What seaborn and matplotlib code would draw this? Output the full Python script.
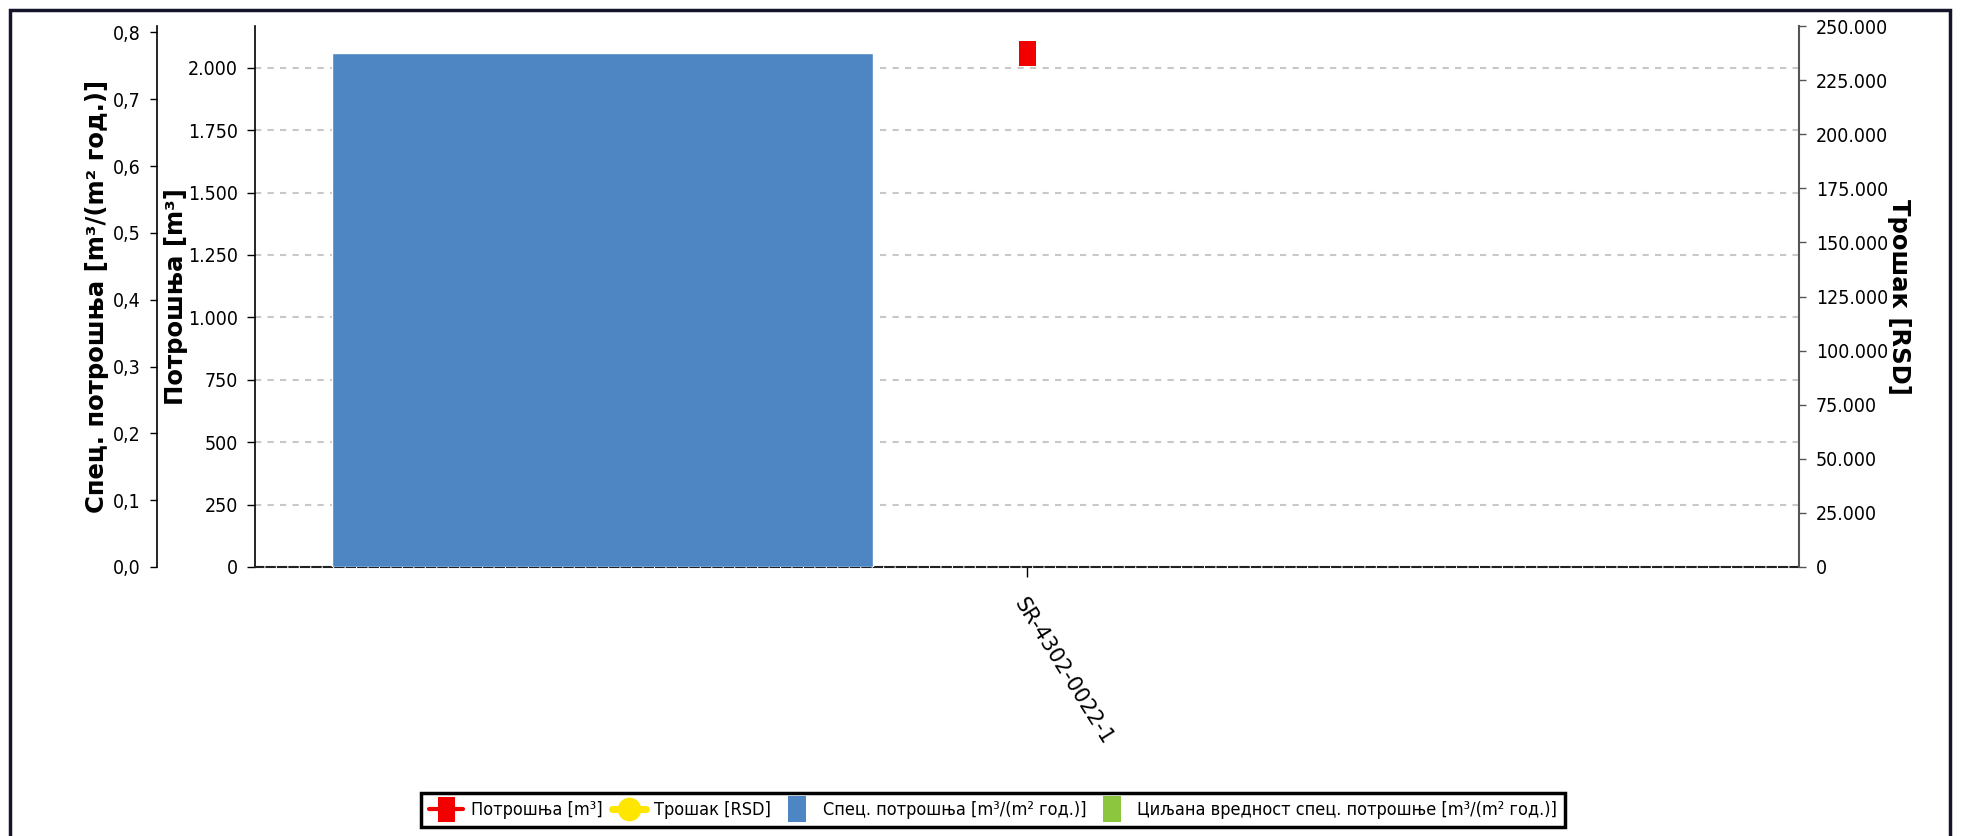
import numpy as np
import pandas as pd
import matplotlib
matplotlib.use('Agg')
import matplotlib.pyplot as plt
import seaborn as sns
from matplotlib.lines import Line2D
from matplotlib.patches import Rectangle
from matplotlib.ticker import FuncFormatter, MultipleLocator

# podaci
objekti = ['SR-4302-0022-1']
potrosnja = [2058]          # Потрошња [m³]
trosak = [np.nan]           # Трошак [RSD] - nema vrednosti
spec_potrosnja = [0.77]     # Спец. потрошња [m³/(m² год.)]
ciljana = [np.nan]          # Циљана вредност спец. потрошње

serije = ['Потрошња [m³]', 'Трошак [RSD]',
          'Спец. потрошња [m³/(m² год.)]',
          'Циљана вредност спец. потрошње [m³/(m² год.)]']
boje = ['#f20000', '#ffe600', '#4e86c4', '#8cc63e']

# stil
sns.set_theme(style='white')
plt.rcParams['font.family'] = ['DejaVu Sans']
plt.rcParams['font.stretch'] = 'condensed'
for k in ['text.color', 'axes.labelcolor', 'xtick.color', 'ytick.color']:
    plt.rcParams[k] = 'black'

W, H = 1962, 836
fig = plt.figure(figsize=(W / 100, H / 100), dpi=100)
ax = fig.add_axes([255 / W, 1 - 567 / H, 1544 / W, 541 / H])
ax_spec = ax.twinx()
ax_rsd = ax.twinx()

# stubici - specificna potrosnja (leva spoljna osa)
df_spec = pd.DataFrame({
    'objekat': objekti * 2,
    'serija': [serije[2]] * len(objekti) + [serije[3]] * len(objekti),
    'vrednost': spec_potrosnja + ciljana,
})
sns.barplot(data=df_spec, x='objekat', y='vrednost', hue='serija',
            hue_order=serije[2:], palette=boje[2:], saturation=1,
            width=0.8, gap=0.363, errorbar=None, legend=False, ax=ax_spec)

# potrosnja m3 (crveni marker) i trosak (nema podataka)
rect = [(-0.68, -1), (0.68, -1), (0.68, 1), (-0.68, 1), (-0.68, -1)]
pos = np.arange(len(objekti))
sns.scatterplot(x=pos, y=potrosnja, ax=ax, color=boje[0], marker=rect,
                s=324, linewidth=0, legend=False, zorder=5)
ax_rsd.plot(pos, trosak, color=boje[1], marker='o')

# granice i podele
ax.set_xlim(-0.3637, len(objekti) - 1 + 0.3637)
ax.set_ylim(0, 2167)
ax_spec.set_ylim(0, 0.8097)
ax_rsd.set_ylim(0, 250000)

tacka = FuncFormatter(lambda v, p: f'{int(round(v)):,}'.replace(',', '.'))
ax.yaxis.set_major_locator(MultipleLocator(250))
ax.yaxis.set_major_formatter(tacka)
ax_rsd.yaxis.set_major_locator(MultipleLocator(25000))
ax_rsd.yaxis.set_major_formatter(tacka)
ax_spec.yaxis.set_major_locator(MultipleLocator(0.1))
ax_spec.yaxis.set_major_formatter(FuncFormatter(lambda v, p: f'{v:.1f}'.replace('.', ',')))

ax.yaxis.grid(True, color='#c8c8c8', linestyle=(0, (3, 3)), linewidth=1.5)
ax.xaxis.grid(False)
ax.set_axisbelow(True)

# ose
for a in [ax, ax_spec, ax_rsd]:
    for s in a.spines.values():
        s.set_visible(False)
ax.spines['left'].set_visible(True)
ax.spines['left'].set_color('black')
ax.spines['left'].set_linewidth(1.2)
ax.spines['bottom'].set_visible(True)
ax.spines['bottom'].set_color('#222222')
ax.spines['bottom'].set_linestyle((0, (4, 1.5)))
ax.spines['bottom'].set_linewidth(1.5)

ax_spec.yaxis.tick_left()
ax_spec.yaxis.set_label_position('left')
ax_spec.spines['left'].set_visible(True)
ax_spec.spines['left'].set_position(('axes', (157 - 255) / 1544))
ax_spec.spines['left'].set_color('black')
ax_spec.spines['left'].set_linewidth(1.2)

ax_rsd.spines['right'].set_visible(True)
ax_rsd.spines['right'].set_color('#555555')
ax_rsd.spines['right'].set_linewidth(1.5)

ax.tick_params(axis='y', left=True, right=False, direction='out', length=6,
               width=1, pad=6.5, labelsize=14)
ax_spec.tick_params(axis='y', left=True, right=False, labelleft=True,
                    labelright=False, direction='out', length=5, width=1,
                    pad=6.5, labelsize=14)
ax_rsd.tick_params(axis='y', right=True, left=False, direction='out',
                   length=5, width=1, color='#555555', pad=7, labelsize=14)
ax.tick_params(axis='x', bottom=True, direction='out', length=7, width=1, pad=13)

ax.set_xticks(pos)
ax.set_xticklabels(objekti, rotation=-58, ha='left', va='top',
                   rotation_mode='anchor', fontsize=15, fontstretch='normal')
ax.set_xlabel('')

lab = dict(fontsize=17.5, fontweight='bold', fontstretch='normal')
ax.set_ylabel('Потрошња [m³]', **lab)
ax.yaxis.set_label_coords((176 - 255) / 1544, 0.5)
ax.yaxis.label.set_va('center')
ax_spec.set_ylabel('Спец. потрошња [m³/(m² год.)]', **lab)
ax_spec.yaxis.set_label_coords((97 - 255) / 1544, 0.5)
ax_spec.yaxis.label.set_va('center')
ax_rsd.set_ylabel('Трошак [RSD]', rotation=270, **lab)
ax_rsd.yaxis.set_label_coords((1899 - 255) / 1544, 0.5)
ax_rsd.yaxis.label.set_va('center')

# legenda
handles = [
    Line2D([], [], color=boje[0], lw=3, marker=rect, markersize=18, markeredgewidth=0),
    Line2D([], [], color=boje[1], lw=5, marker='o', markersize=17, markeredgewidth=0),
    Line2D([], [], color=boje[2], linestyle='none', marker=rect, markersize=19, markeredgewidth=0),
    Line2D([], [], color=boje[3], linestyle='none', marker=rect, markersize=19, markeredgewidth=0),
]
leg = fig.legend(handles, serije, loc='center', bbox_to_anchor=(993 / W, 1 - 810 / H),
                 ncol=4, fontsize=13, frameon=True, fancybox=False,
                 edgecolor='black', framealpha=1, borderpad=0.45,
                 handlelength=1.9, handletextpad=0.45, columnspacing=0.5)
leg.get_frame().set_linewidth(2.5)

# okvir slike
fig.patches.append(Rectangle((10 / W, -0.05), 1940 / W, (H - 10) / H + 0.05,
                             transform=fig.transFigure, fill=False,
                             edgecolor='#14142a', linewidth=2.5))

fig.savefig('out.png', dpi=100)
